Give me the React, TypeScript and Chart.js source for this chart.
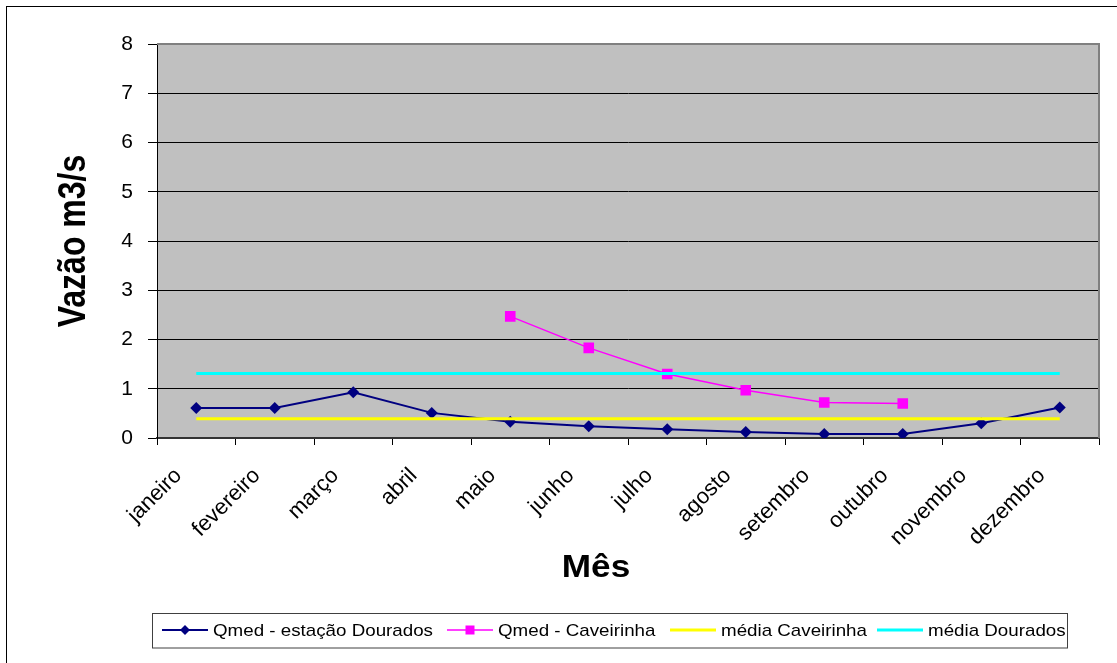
import React, { useEffect, useRef } from 'react';
import { Chart, registerables } from 'chart.js';

Chart.register(...registerables);

const months = ['janeiro', 'fevereiro', 'março', 'abril', 'maio', 'junho', 'julho', 'agosto', 'setembro', 'outubro', 'novembro', 'dezembro'];
const qmedDourados = [0.61, 0.61, 0.93, 0.51, 0.33, 0.24, 0.18, 0.12, 0.08, 0.08, 0.30, 0.62];
const qmedCaveirinha = [null, null, null, null, 2.47, 1.83, 1.30, 0.97, 0.72, 0.70, null, null];
const mediaCaveirinha = [0.39, 0.39, 0.39, 0.39, 0.39, 0.39, 0.39, 0.39, 0.39, 0.39, 0.39, 0.39];
const mediaDourados = [1.31, 1.31, 1.31, 1.31, 1.31, 1.31, 1.31, 1.31, 1.31, 1.31, 1.31, 1.31];
const seriesLabels = ['Qmed - estação Dourados', 'Qmed - Caveirinha', 'média Caveirinha', 'média Dourados'];
const yMin = 0;
const yMax = 8;
const yStep = 1;
const yTitle = 'Vazão m3/s';
const xTitle = 'Mês';

const FONT = '"Liberation Sans", Arial, Helvetica, sans-serif';
const colors = ['#000080', '#FF00FF', '#FFFF00', '#00FFFF'];

const decorPlugin = {
  id: 'decor',
  beforeDraw(chart: any) {
    const { ctx, chartArea: a } = chart;
    ctx.save();
    ctx.fillStyle = '#FFFFFF';
    ctx.fillRect(0, 0, chart.width, chart.height);
    ctx.fillStyle = '#C0C0C0';
    ctx.fillRect(a.left, a.top, a.right - a.left, a.bottom - a.top);
    ctx.restore();
  },
  beforeDatasetsDraw(chart: any) {
    const { ctx, chartArea: a } = chart;
    ctx.save();
    ctx.strokeStyle = '#808080';
    ctx.lineWidth = 2;
    ctx.beginPath();
    ctx.moveTo(a.left, a.top);
    ctx.lineTo(a.right, a.top);
    ctx.lineTo(a.right, a.bottom);
    ctx.stroke();
    ctx.restore();
  },
  afterDraw(chart: any) {
    const { ctx } = chart;
    ctx.save();
    // outer frame
    ctx.strokeStyle = '#000000';
    ctx.lineWidth = 1;
    ctx.strokeRect(6.5, 6.5, chart.width + 20, chart.height + 20);

    // y title
    ctx.fillStyle = '#000000';
    ctx.font = `bold 32px ${FONT}`;
    ctx.textAlign = 'center';
    ctx.textBaseline = 'alphabetic';
    ctx.save();
    ctx.translate(85, 241);
    ctx.rotate(-Math.PI / 2);
    ctx.scale(1, 1.2);
    ctx.fillText(yTitle, 0, 0);
    ctx.restore();

    // x title
    ctx.save();
    ctx.font = `bold 32px ${FONT}`;
    ctx.translate(596, 577);
    ctx.scale(1.1, 1);
    ctx.fillText(xTitle, 0, 0);
    ctx.restore();

    // legend
    const bx = 152.5, by = 613.5, bw = 915, bh = 34.5;
    ctx.strokeStyle = '#404040';
    ctx.lineWidth = 1;
    ctx.strokeRect(bx, by, bw, bh);
    ctx.font = `17px ${FONT}`;
    ctx.textAlign = 'left';
    const baseW = ctx.measureText(seriesLabels[0]).width;
    const sx = 220 / baseW;
    const cy = 630;
    const widths = [2, 1.5, 3, 3];
    const starts = [162, 447, 670, 877];
    seriesLabels.forEach((label, i) => {
      const x = starts[i];
      ctx.strokeStyle = colors[i];
      ctx.lineWidth = widths[i];
      ctx.beginPath();
      ctx.moveTo(x, cy);
      ctx.lineTo(x + 46, cy);
      ctx.stroke();
      const mx = x + 23;
      if (i === 0) {
        ctx.fillStyle = colors[0];
        ctx.beginPath();
        ctx.moveTo(mx, cy - 5);
        ctx.lineTo(mx + 5, cy);
        ctx.lineTo(mx, cy + 5);
        ctx.lineTo(mx - 5, cy);
        ctx.closePath();
        ctx.fill();
      } else if (i === 1) {
        ctx.fillStyle = colors[1];
        ctx.fillRect(mx - 4.5, cy - 4.5, 9, 9);
      }
      ctx.fillStyle = '#000000';
      ctx.save();
      ctx.translate(x + 51, 636);
      ctx.scale(sx, 1);
      ctx.fillText(label, 0, 0);
      ctx.restore();
    });
    ctx.restore();
  },
};

export default function App() {
  const ref = useRef<HTMLCanvasElement | null>(null);
  useEffect(() => {
    if (!ref.current) return;
    const chart = new Chart(ref.current, {
      type: 'line',
      data: {
        labels: months,
        datasets: [
          {
            label: seriesLabels[0],
            data: qmedDourados,
            borderColor: colors[0],
            backgroundColor: colors[0],
            borderWidth: 2,
            pointStyle: 'rectRot',
            pointRadius: 6,
            pointBorderWidth: 0,
            tension: 0,
            order: 4,
          },
          {
            label: seriesLabels[1],
            data: qmedCaveirinha,
            borderColor: colors[1],
            backgroundColor: colors[1],
            borderWidth: 1.5,
            pointStyle: 'rect',
            pointRadius: 7.5,
            pointBorderWidth: 0,
            tension: 0,
            spanGaps: false,
            order: 3,
          },
          {
            label: seriesLabels[2],
            data: mediaCaveirinha,
            borderColor: colors[2],
            backgroundColor: colors[2],
            borderWidth: 3,
            pointRadius: 0,
            order: 2,
          },
          {
            label: seriesLabels[3],
            data: mediaDourados,
            borderColor: colors[3],
            backgroundColor: colors[3],
            borderWidth: 3,
            pointRadius: 0,
            order: 1,
          },
        ],
      } as any,
      options: {
        responsive: false,
        maintainAspectRatio: false,
        animation: false,
        devicePixelRatio: 1,
        events: [],
        layout: { padding: { top: 44, right: 18, left: 0, bottom: 0 } },
        plugins: {
          legend: { display: false },
          tooltip: { enabled: false },
          title: { display: false },
        },
        scales: {
          x: {
            type: 'category',
            offset: true,
            afterFit(scale: any) {
              scale.height = 225;
            },
            grid: {
              display: true,
              drawOnChartArea: false,
              drawTicks: true,
              tickLength: 7,
              color: '#000000',
              offset: true,
            },
            border: { display: true, color: '#333333', width: 2 },
            ticks: {
              autoSkip: false,
              minRotation: 45,
              maxRotation: 45,
              padding: 18,
              labelOffset: -18,
              color: '#000000',
              font: { family: FONT, size: 22 },
            },
          },
          y: {
            min: yMin,
            max: yMax,
            afterFit(scale: any) {
              scale.width = 157;
            },
            grid: {
              color: '#000000',
              lineWidth: 1,
              tickLength: 9,
              drawTicks: true,
            },
            border: { display: true, color: '#000000', width: 1 },
            ticks: {
              stepSize: yStep,
              padding: 15,
              color: '#000000',
              font: { family: FONT, size: 21 },
            },
          },
        },
      } as any,
      plugins: [decorPlugin],
    });
    return () => chart.destroy();
  }, []);
  return (
    <div style={{ position: 'absolute', left: 0, top: 0, width: 1117, height: 663 }}>
      <canvas ref={ref} width={1117} height={663} style={{ display: 'block', width: 1117, height: 663 }} />
    </div>
  );
}
